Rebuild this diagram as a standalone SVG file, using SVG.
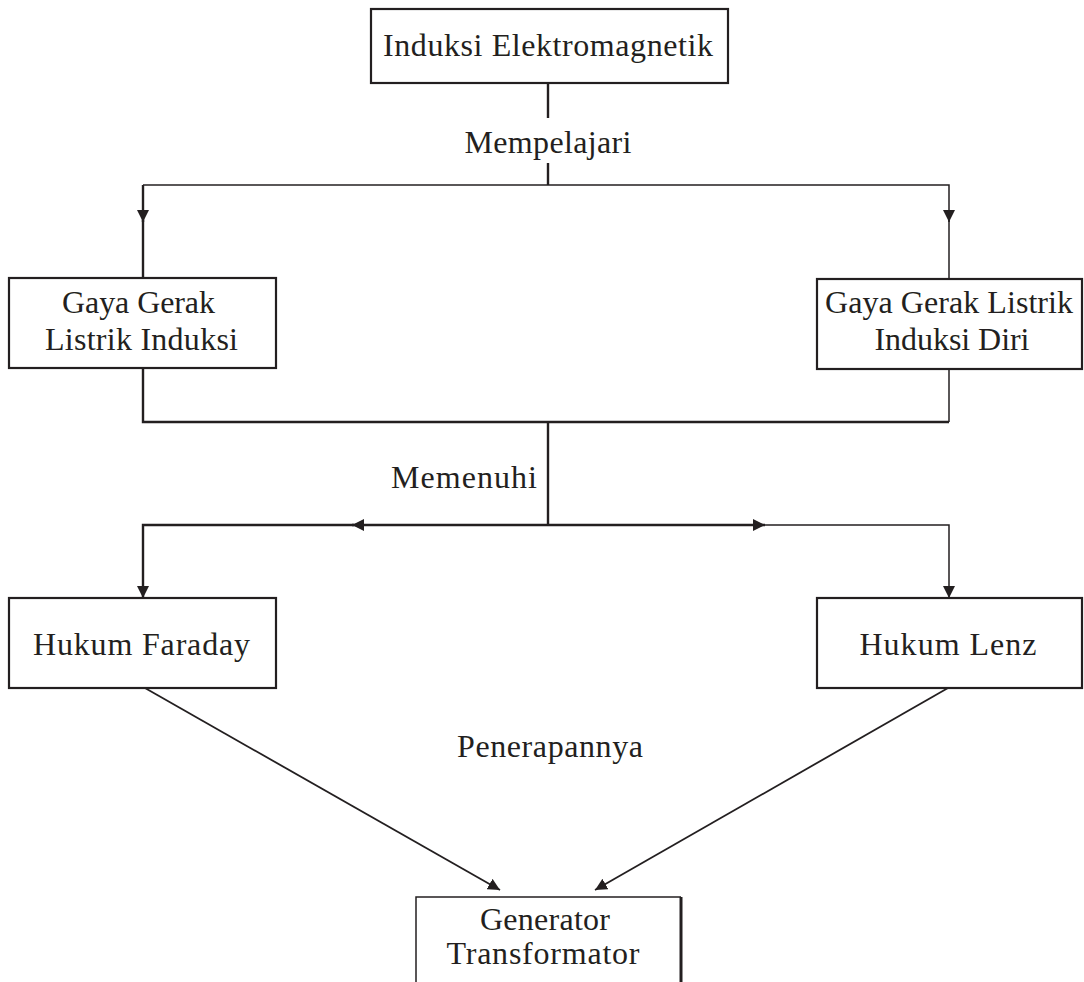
<svg xmlns="http://www.w3.org/2000/svg" width="1084" height="982" viewBox="0 0 1084 982">
<style>
.box{fill:#fff;stroke:#231f20;stroke-width:2.2}
.t{font-family:"Liberation Serif","Times New Roman",serif;font-size:32px;fill:#231f20;text-anchor:middle}
.c{fill:none;stroke:#231f20;stroke-width:2.4}
.c2{fill:none;stroke:#231f20;stroke-width:1.5}
.c3{fill:none;stroke:#231f20;stroke-width:1.8}
</style>
<defs>
<marker id="ah" viewBox="0 0 10 10" refX="10" refY="5" markerUnits="userSpaceOnUse" markerWidth="12" markerHeight="12" orient="auto">
<path d="M0,0 L10,5 L0,10 z" fill="#231f20"/>
</marker>
</defs>
<rect width="1084" height="982" fill="#fff"/>
<g id="connectors">
<path class="c" d="M548,83 V118"/>
<path class="c" d="M548,163 V185"/>
<path class="c2" d="M548,185 H143"/>
<path class="c" d="M143,185 V222" marker-end="url(#ah)"/>
<path class="c" d="M143,220 V278"/>
<path class="c2" d="M548,185 H949 V222" marker-end="url(#ah)"/>
<path class="c2" d="M949,220 V279"/>
<path class="c" d="M143,368 V422 H548"/>
<path class="c2" d="M949,369 V422"/>
<path class="c" d="M548,422 H949"/>
<path class="c" d="M548,422 V525"/>
<path class="c" d="M548,525 H352" marker-end="url(#ah)"/>
<path class="c" d="M354,525 H143 V598" marker-end="url(#ah)"/>
<path class="c" d="M548,525 H765" marker-end="url(#ah)"/>
<path class="c2" d="M763,525 H949 V598" marker-end="url(#ah)"/>
<path class="c3" d="M145,688 L500,890" marker-end="url(#ah)"/>
<path class="c3" d="M948,688 L595,890" marker-end="url(#ah)"/>
<text class="t" x="548" y="153" textLength="167" lengthAdjust="spacing">Mempelajari</text>
<text class="t" x="464" y="488" textLength="146" lengthAdjust="spacing">Memenuhi</text>
<text class="t" x="550" y="757" textLength="186" lengthAdjust="spacing">Penerapannya</text>
</g>
<g id="n-induksi">
<rect class="box" x="371" y="9" width="357" height="74"/>
<text class="t" x="548" y="56" textLength="330" lengthAdjust="spacing">Induksi  Elektromagnetik</text>
</g>
<g id="n-ggl">
<rect class="box" x="9" y="278" width="267" height="90"/>
<text class="t" x="138.5" y="313" textLength="153" lengthAdjust="spacing">Gaya Gerak</text>
<text class="t" x="141.5" y="350" textLength="193" lengthAdjust="spacing">Listrik  Induksi</text>
</g>
<g id="n-ggl-diri">
<rect class="box" x="817" y="279" width="265" height="90"/>
<text class="t" x="949" y="313" textLength="248" lengthAdjust="spacing">Gaya Gerak Listrik</text>
<text class="t" x="952" y="350" textLength="155" lengthAdjust="spacing">Induksi Diri</text>
</g>
<g id="n-faraday">
<rect class="box" x="9" y="598" width="267" height="90"/>
<text class="t" x="141.5" y="655" textLength="217" lengthAdjust="spacing">Hukum  Faraday</text>
</g>
<g id="n-lenz">
<rect class="box" x="817" y="598" width="265" height="90"/>
<text class="t" x="948" y="655" textLength="177" lengthAdjust="spacing">Hukum  Lenz</text>
</g>
<g id="n-generator">
<path d="M416,990 V897 H681" fill="none" stroke="#231f20" stroke-width="1.5"/>
<path d="M681,897 V990" fill="none" stroke="#231f20" stroke-width="3"/>
<text class="t" x="545" y="930" textLength="130" lengthAdjust="spacing">Generator</text>
<text class="t" x="543" y="964" textLength="193" lengthAdjust="spacing">Transformator</text>
</g>
</svg>
